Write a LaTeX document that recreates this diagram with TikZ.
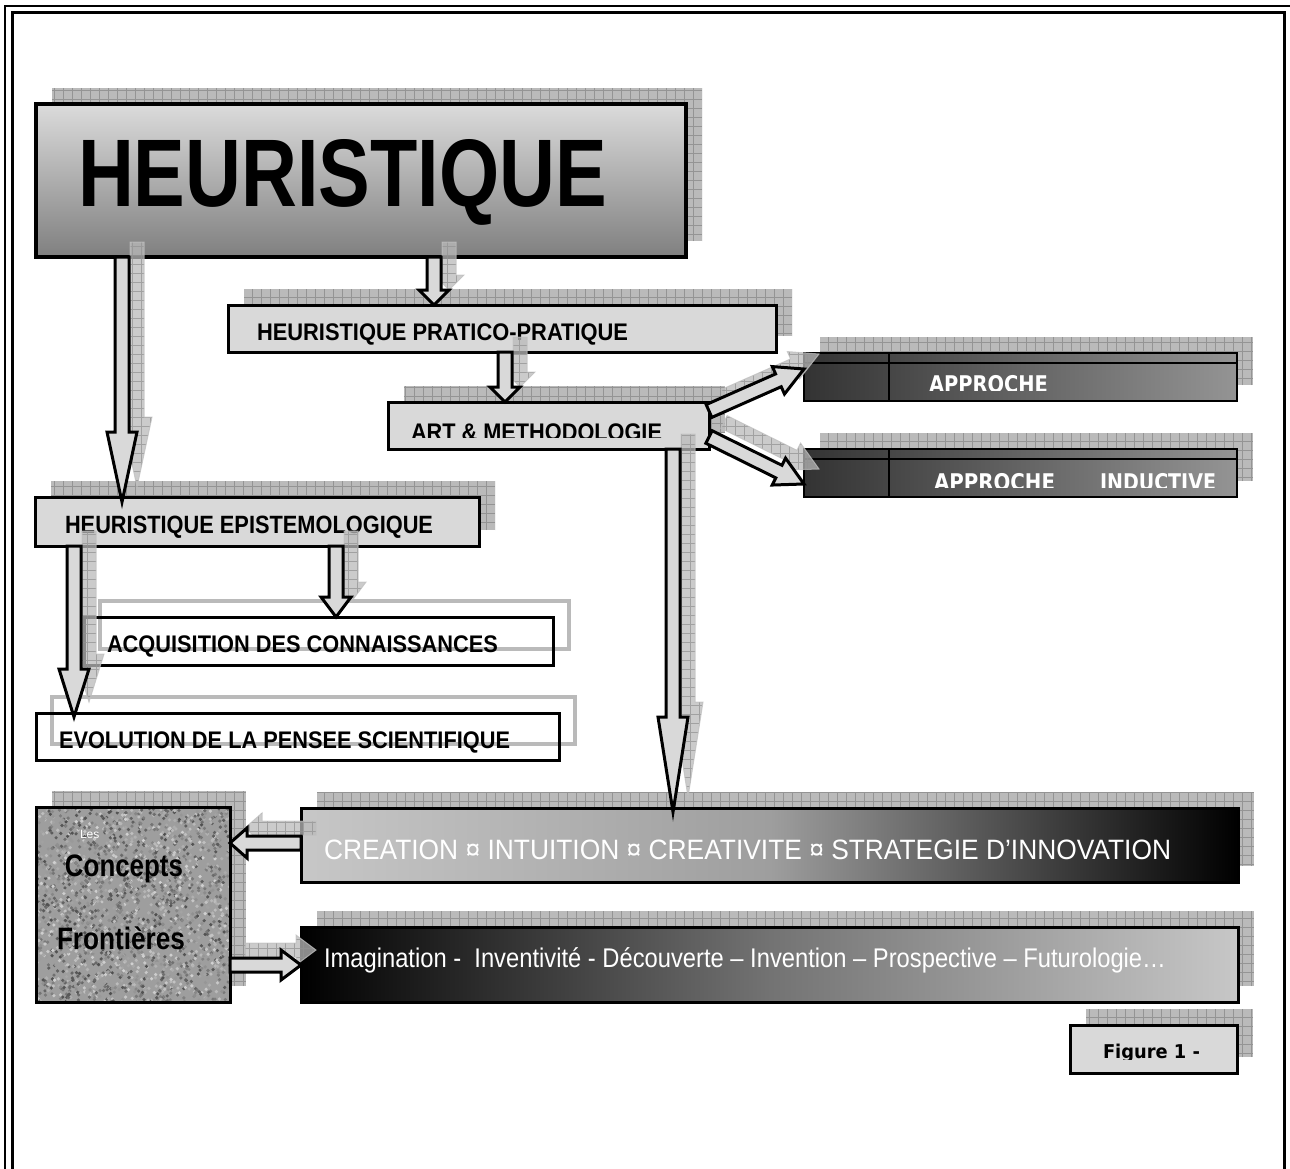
\documentclass[tikz,border=0pt]{standalone}
\usepackage{fontspec}
\setmainfont{Liberation Sans}
\newfontfamily\dejavu{DejaVu Sans}
\usetikzlibrary{calc}
\pgfdeclarelayer{background}
\pgfsetlayers{background,main}

\newcommand\fitto[2]{\resizebox{#1}{\height}{#2}}
\newcommand\fsz[1]{\fontsize{#1}{#1}\selectfont}
% block arrow: [style]{from}{to}{head length}
\newcommand\blockarrow[4][]{%
  \coordinate (hb) at ($(#3)!#4!(#2)$);
  \filldraw[#1] ($(#2)!7pt!90:(#3)$) -- ($(hb)!7pt!90:(#3)$) -- ($(hb)!15pt!90:(#3)$) -- (#3)
    -- ($(hb)!15pt!-90:(#3)$) -- ($(hb)!7pt!-90:(#3)$) -- ($(#2)!7pt!-90:(#3)$) -- cycle;}

\begin{document}
\begin{tikzpicture}[x=1pt,y=-1pt,
  every node/.style={inner sep=0pt, outer sep=0pt},
  box/.style={draw=black, line width=3pt, anchor=north west},
  txt/.style={anchor=base west},
  shadowgrid/.style={fill=black!27, path picture={\draw[black!42, line width=0.6pt, step=9pt]
    (path picture bounding box.south west) grid (path picture bounding box.north east);}},
  shadowframe/.style={draw=black!27, line width=3.5pt},
  harrow/.style={fill=black!15, draw=black, line width=3pt, line join=miter},
  sharrow/.style={shadowgrid, draw=black!25, line width=1pt, opacity=.75},
  granite/.style={path picture={\pgfmathsetseed{7}
    \foreach \i in {1,...,2200}{\pgfmathsetmacro\gx{196*rnd}\pgfmathsetmacro\gy{197*rnd}
      \pgfmathtruncatemacro\gc{18+52*rnd}
      \fill[black!\gc] ([shift={(\gx,\gy)}]path picture bounding box.north west) circle[radius=1.8pt];}}},
]
\useasboundingbox (0,0) rectangle (1290,1169);
\clip (0,0) rectangle (1290,1169);

% frame
\draw[line width=1.5pt] (5,1180) -- (5,6) -- (1300,6);
\draw[line width=3pt] (12,1180) -- (12,13) -- (1284,13) -- (1284,1180);

% boxes
\node[box, line width=4pt, top color=black!14, bottom color=black!50, minimum width=650, minimum height=153] (heur) at (36,104) {};
\node[box, fill=black!15, minimum width=548, minimum height=47] (prat) at (228,305) {};
\node[box, fill=black!15, minimum width=321, minimum height=47] (art) at (388,402) {};
\node[box, line width=2pt, left color=black!80, right color=black!42, minimum width=433, minimum height=48] (app1) at (804,353) {};
\node[box, line width=2pt, left color=black!80, right color=black!42, minimum width=433, minimum height=48] (app2) at (804,449) {};
\node[box, fill=black!15, minimum width=444, minimum height=49] (epis) at (35,497) {};
\node[box, minimum width=469, minimum height=48] (acq) at (84,617) {};
\node[box, minimum width=523, minimum height=47] (evol) at (36,713) {};
\node[box, fill=black!38, granite, minimum width=194, minimum height=195] (conc) at (36,807) {};
\node[box, left color=black!22, right color=black, middle color=black!38, minimum width=937, minimum height=74] (cre) at (301,808) {};
\node[box, left color=black, right color=black!22, middle color=black!55, minimum width=937, minimum height=75] (imag) at (301,927) {};
\node[box, fill=black!15, minimum width=167, minimum height=48] (fig) at (1070,1025) {};

\draw[line width=2pt] ([yshift=-10pt]app1.north west) -- ([yshift=-10pt]app1.north east);
\draw[line width=2pt] (app1.north -| 889,0) -- (app1.south -| 889,0);
\draw[line width=2pt] ([yshift=-10pt]app2.north west) -- ([yshift=-10pt]app2.north east);
\draw[line width=2pt] (app2.north -| 889,0) -- (app2.south -| 889,0);

% shadows
\begin{pgfonlayer}{background}
\foreach \b in {heur,prat,art,app1,app2,epis,conc,cre,imag,fig}
  \path[shadowgrid] ([shift={(16pt,16pt)}]\b.south west) rectangle ([shift={(16pt,16pt)}]\b.north east);
\foreach \b in {acq,evol}
  \draw[shadowframe] ([shift={(16pt,16pt)}]\b.south west) rectangle ([shift={(16pt,16pt)}]\b.north east);
\end{pgfonlayer}

% texts
\node[txt] (heurtxt) at (78,207) {\fitto{529pt}{\fsz{96}\bfseries HEURISTIQUE}};
\node[txt] (prattxt) at (257,340) {\fitto{371pt}{\fsz{24}\bfseries HEURISTIQUE PRATICO-PRATIQUE}};
\node[txt] (epistxt) at (65,533) {\fitto{368pt}{\fsz{25}\bfseries HEURISTIQUE EPISTEMOLOGIQUE}};
\node[txt] (acqtxt) at (107,652) {\fitto{391pt}{\fsz{24}\bfseries ACQUISITION DES CONNAISSANCES}};
\node[txt] (evoltxt) at (59,748) {\fitto{451pt}{\fsz{24}\bfseries EVOLUTION DE LA PENSEE SCIENTIFIQUE}};
\node[txt, white] (cretxt) at (324,859) {\fitto{847pt}{\fsz{28}CREATION ¤ INTUITION ¤ CREATIVITE ¤ STRATEGIE D’INNOVATION}};
\node[txt, white] (imagtxt) at (324,967) {\fitto{842pt}{\fsz{27}Imagination -\ \ Inventivité - Découverte – Invention – Prospective – Futurologie…}};
\node[txt, white] (lestxt) at (80,838) {\fsz{12}Les};
\node[anchor=base] (concpt) at (124,876) {\fitto{118pt}{\fsz{31}\bfseries Concepts}};
\node[anchor=base] (front) at (121,949) {\fitto{128pt}{\fsz{31}\bfseries Frontières}};
\begin{scope}
  \clip (art.north west) rectangle ([yshift=12pt]art.south east);
  \node[txt] (arttxt) at (411,440) {\fitto{251pt}{\fsz{24}\bfseries ART \& METHODOLOGIE}};
\end{scope}
\begin{scope}
  \clip (app1.north west) rectangle ([yshift=11pt]app1.south east);
  \node[txt, white] (app1txt) at (929,392) {\fitto{119pt}{\dejavu\fsz{23}\bfseries APPROCHE}};
\end{scope}
\begin{scope}
  \clip (app2.north west) rectangle ([yshift=10pt]app2.south east);
  \node[txt, white] (app2txt) at (934,490) {\fitto{121pt}{\dejavu\fsz{23}\bfseries APPROCHE}};
  \node[txt, white] (app2txtb) at (1100,490) {\fitto{116pt}{\dejavu\fsz{23}\bfseries INDUCTIVE}};
\end{scope}
\begin{scope}
  \clip (fig.north west) rectangle ([yshift=14pt]fig.south east);
  \node[txt] (figtxt) at (1103,1058) {\fitto{97pt}{\dejavu\fsz{19}\bfseries Figure 1 -}};
\end{scope}

% connector ends
\coordinate (a1s) at (heur.south -| 434,0);  \coordinate (a1e) at (prat.north -| 434,0);
\coordinate (a2s) at (prat.south -| 505,0);  \coordinate (a2e) at (art.north -| 505,0);
\coordinate (a3s) at (art.east |- 0,411);    \coordinate (a3e) at (app1.west |- 0,369);
\coordinate (a4s) at (art.east |- 0,437);    \coordinate (a4e) at (app2.west |- 0,484);
\coordinate (a5s) at (art.south -| 673,0);   \coordinate (a5e) at ([yshift=-4pt]cre.north -| 673,0);
\coordinate (a6s) at (heur.south -| 122,0);  \coordinate (a6e) at ([yshift=-5pt]epis.north -| 122,0);
\coordinate (a7s) at (epis.south -| 336,0);  \coordinate (a7e) at (acq.north -| 336,0);
\coordinate (a8s) at (epis.south -| 74,0);   \coordinate (a8e) at ([yshift=-4pt]evol.north -| 74,0);
\coordinate (a9s) at (cre.west |- 0,843);    \coordinate (a9e) at (conc.east |- 0,843);
\coordinate (a10s) at (conc.east |- 0,965);  \coordinate (a10e) at (imag.west |- 0,965);

% arrow shadows
\begin{scope}[transform canvas={shift={(15pt,15pt)}}]
\blockarrow[sharrow]{a1s}{a1e}{15pt}
\blockarrow[sharrow]{a2s}{a2e}{15pt}
\blockarrow[sharrow]{a3s}{a3e}{28pt}
\blockarrow[sharrow]{a4s}{a4e}{28pt}
\blockarrow[sharrow]{a5s}{a5e}{95pt}
\blockarrow[sharrow]{a6s}{a6e}{70pt}
\blockarrow[sharrow]{a7s}{a7e}{20pt}
\blockarrow[sharrow]{a8s}{a8e}{48pt}
\blockarrow[sharrow]{a9s}{a9e}{17pt}
\blockarrow[sharrow]{a10s}{a10e}{20pt}
\end{scope}

% arrows
\blockarrow[harrow]{a1s}{a1e}{15pt}
\blockarrow[harrow]{a2s}{a2e}{15pt}
\blockarrow[harrow]{a3s}{a3e}{28pt}
\blockarrow[harrow]{a4s}{a4e}{28pt}
\blockarrow[harrow]{a5s}{a5e}{95pt}
\blockarrow[harrow]{a6s}{a6e}{70pt}
\blockarrow[harrow]{a7s}{a7e}{20pt}
\blockarrow[harrow]{a8s}{a8e}{48pt}
\blockarrow[harrow]{a9s}{a9e}{17pt}
\blockarrow[harrow]{a10s}{a10e}{20pt}
\end{tikzpicture}
\end{document}
